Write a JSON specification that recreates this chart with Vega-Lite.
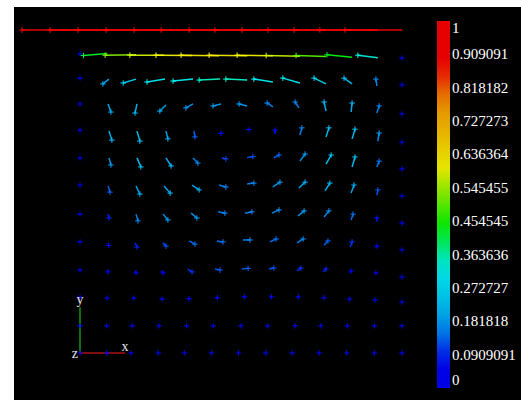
{
  "$schema": "https://vega.github.io/schema/vega-lite/v6.json",
  "width": 507,
  "height": 393,
  "autosize": {"type": "none"},
  "padding": {"left": 14, "top": 7, "right": 0, "bottom": 0},
  "background": "#ffffff",
  "datasets": {
    "glyphs": [
      {"x":0,"y":1.0,"x2":-0.180,"y2":1.0,"mag":1},
      {"x":0.087,"y":1.0,"x2":-0.093,"y2":1.0,"mag":1},
      {"x":0.174,"y":1.0,"x2":-0.006,"y2":1.0,"mag":1},
      {"x":0.261,"y":1.0,"x2":0.081,"y2":1.0,"mag":1},
      {"x":0.348,"y":1.0,"x2":0.168,"y2":1.0,"mag":1},
      {"x":0.432,"y":1.0,"x2":0.252,"y2":1.0,"mag":1},
      {"x":0.519,"y":1.0,"x2":0.339,"y2":1.0,"mag":1},
      {"x":0.599,"y":1.0,"x2":0.419,"y2":1.0,"mag":1},
      {"x":0.683,"y":1.0,"x2":0.503,"y2":1.0,"mag":1},
      {"x":0.764,"y":1.0,"x2":0.584,"y2":1.0,"mag":1},
      {"x":0.845,"y":1.0,"x2":0.665,"y2":1.0,"mag":1},
      {"x":0.925,"y":1.0,"x2":0.745,"y2":1.0,"mag":1},
      {"x":1.0,"y":1.0,"x2":0.823,"y2":1.0,"mag":1},

      {"x":0,"y":0.926,"x2":0,"y2":0.926,"mag":0},
      {"x":0.085,"y":0.927,"x2":0.011,"y2":0.921,"mag":0.42},
      {"x":0.174,"y":0.923,"x2":0.078,"y2":0.922,"mag":0.53},
      {"x":0.261,"y":0.922,"x2":0.155,"y2":0.922,"mag":0.58},
      {"x":0.348,"y":0.921,"x2":0.236,"y2":0.922,"mag":0.6},
      {"x":0.432,"y":0.920,"x2":0.314,"y2":0.922,"mag":0.62},
      {"x":0.519,"y":0.920,"x2":0.401,"y2":0.922,"mag":0.62},
      {"x":0.599,"y":0.920,"x2":0.488,"y2":0.922,"mag":0.6},
      {"x":0.683,"y":0.919,"x2":0.578,"y2":0.921,"mag":0.57},
      {"x":0.764,"y":0.918,"x2":0.671,"y2":0.921,"mag":0.5},
      {"x":0.845,"y":0.916,"x2":0.767,"y2":0.923,"mag":0.43},
      {"x":0.925,"y":0.914,"x2":0.863,"y2":0.922,"mag":0.34},
      {"x":1.0,"y":0.913,"x2":1.0,"y2":0.913,"mag":0},

      {"x":0,"y":0.851,"x2":0,"y2":0.851,"mag":0},
      {"x":0.090,"y":0.848,"x2":0.071,"y2":0.833,"mag":0.2},
      {"x":0.174,"y":0.848,"x2":0.134,"y2":0.836,"mag":0.26},
      {"x":0.264,"y":0.848,"x2":0.208,"y2":0.839,"mag":0.31},
      {"x":0.351,"y":0.848,"x2":0.289,"y2":0.842,"mag":0.33},
      {"x":0.435,"y":0.848,"x2":0.370,"y2":0.845,"mag":0.35},
      {"x":0.519,"y":0.845,"x2":0.453,"y2":0.848,"mag":0.35},
      {"x":0.599,"y":0.839,"x2":0.540,"y2":0.848,"mag":0.33},
      {"x":0.683,"y":0.836,"x2":0.630,"y2":0.851,"mag":0.31},
      {"x":0.764,"y":0.833,"x2":0.727,"y2":0.851,"mag":0.27},
      {"x":0.845,"y":0.833,"x2":0.820,"y2":0.851,"mag":0.22},
      {"x":0.922,"y":0.827,"x2":0.919,"y2":0.848,"mag":0.17},
      {"x":1.0,"y":0.830,"x2":1.0,"y2":0.830,"mag":0},

      {"x":0,"y":0.771,"x2":0,"y2":0.771,"mag":0},
      {"x":0.087,"y":0.771,"x2":0.096,"y2":0.746,"mag":0.2},
      {"x":0.177,"y":0.771,"x2":0.171,"y2":0.743,"mag":0.21},
      {"x":0.267,"y":0.768,"x2":0.248,"y2":0.749,"mag":0.2},
      {"x":0.351,"y":0.771,"x2":0.329,"y2":0.759,"mag":0.18},
      {"x":0.438,"y":0.771,"x2":0.413,"y2":0.765,"mag":0.18},
      {"x":0.519,"y":0.765,"x2":0.494,"y2":0.771,"mag":0.18},
      {"x":0.599,"y":0.762,"x2":0.581,"y2":0.774,"mag":0.16},
      {"x":0.680,"y":0.759,"x2":0.668,"y2":0.777,"mag":0.16},
      {"x":0.764,"y":0.749,"x2":0.758,"y2":0.777,"mag":0.21},
      {"x":0.842,"y":0.746,"x2":0.845,"y2":0.774,"mag":0.21},
      {"x":0.922,"y":0.743,"x2":0.929,"y2":0.765,"mag":0.16},
      {"x":1.0,"y":0.740,"x2":1.0,"y2":0.740,"mag":0},

      {"x":0,"y":0.690,"x2":0,"y2":0.690,"mag":0},
      {"x":0.090,"y":0.687,"x2":0.099,"y2":0.659,"mag":0.21},
      {"x":0.177,"y":0.687,"x2":0.186,"y2":0.656,"mag":0.23},
      {"x":0.267,"y":0.687,"x2":0.273,"y2":0.663,"mag":0.2},
      {"x":0.354,"y":0.687,"x2":0.357,"y2":0.669,"mag":0.13},
      {"x":0.435,"y":0.684,"x2":0.438,"y2":0.680,"mag":0.03},
      {"x":0.522,"y":0.690,"x2":0.525,"y2":0.692,"mag":0.02},
      {"x":0.606,"y":0.678,"x2":0.606,"y2":0.690,"mag":0.08},
      {"x":0.683,"y":0.675,"x2":0.689,"y2":0.697,"mag":0.16},
      {"x":0.764,"y":0.669,"x2":0.773,"y2":0.697,"mag":0.22},
      {"x":0.845,"y":0.663,"x2":0.854,"y2":0.693,"mag":0.23},
      {"x":0.925,"y":0.656,"x2":0.929,"y2":0.681,"mag":0.18},
      {"x":1.0,"y":0.653,"x2":1.0,"y2":0.653,"mag":0},

      {"x":0,"y":0.604,"x2":0,"y2":0.604,"mag":0},
      {"x":0.090,"y":0.604,"x2":0.096,"y2":0.582,"mag":0.18},
      {"x":0.177,"y":0.604,"x2":0.189,"y2":0.576,"mag":0.22},
      {"x":0.267,"y":0.604,"x2":0.283,"y2":0.579,"mag":0.21},
      {"x":0.351,"y":0.604,"x2":0.366,"y2":0.588,"mag":0.16},
      {"x":0.441,"y":0.604,"x2":0.453,"y2":0.601,"mag":0.11},
      {"x":0.519,"y":0.605,"x2":0.537,"y2":0.608,"mag":0.12},
      {"x":0.602,"y":0.604,"x2":0.618,"y2":0.613,"mag":0.13},
      {"x":0.683,"y":0.594,"x2":0.699,"y2":0.616,"mag":0.18},
      {"x":0.764,"y":0.585,"x2":0.780,"y2":0.613,"mag":0.23},
      {"x":0.845,"y":0.576,"x2":0.854,"y2":0.607,"mag":0.22},
      {"x":0.922,"y":0.576,"x2":0.929,"y2":0.594,"mag":0.14},
      {"x":1.0,"y":0.570,"x2":1.0,"y2":0.570,"mag":0},

      {"x":0,"y":0.520,"x2":0,"y2":0.520,"mag":0},
      {"x":0.087,"y":0.517,"x2":0.093,"y2":0.498,"mag":0.13},
      {"x":0.174,"y":0.517,"x2":0.186,"y2":0.492,"mag":0.2},
      {"x":0.261,"y":0.517,"x2":0.280,"y2":0.495,"mag":0.21},
      {"x":0.348,"y":0.520,"x2":0.370,"y2":0.505,"mag":0.2},
      {"x":0.432,"y":0.520,"x2":0.453,"y2":0.514,"mag":0.16},
      {"x":0.519,"y":0.523,"x2":0.540,"y2":0.526,"mag":0.16},
      {"x":0.599,"y":0.514,"x2":0.621,"y2":0.529,"mag":0.18},
      {"x":0.680,"y":0.511,"x2":0.699,"y2":0.529,"mag":0.2},
      {"x":0.761,"y":0.502,"x2":0.776,"y2":0.526,"mag":0.21},
      {"x":0.842,"y":0.495,"x2":0.851,"y2":0.520,"mag":0.2},
      {"x":0.922,"y":0.489,"x2":0.925,"y2":0.505,"mag":0.12},
      {"x":1.0,"y":0.486,"x2":1.0,"y2":0.486,"mag":0},

      {"x":0,"y":0.430,"x2":0,"y2":0.430,"mag":0},
      {"x":0.087,"y":0.430,"x2":0.090,"y2":0.418,"mag":0.09},
      {"x":0.174,"y":0.430,"x2":0.180,"y2":0.409,"mag":0.16},
      {"x":0.258,"y":0.430,"x2":0.273,"y2":0.412,"mag":0.18},
      {"x":0.345,"y":0.433,"x2":0.363,"y2":0.418,"mag":0.18},
      {"x":0.429,"y":0.437,"x2":0.450,"y2":0.433,"mag":0.16},
      {"x":0.512,"y":0.433,"x2":0.534,"y2":0.437,"mag":0.16},
      {"x":0.596,"y":0.433,"x2":0.618,"y2":0.443,"mag":0.17},
      {"x":0.677,"y":0.424,"x2":0.696,"y2":0.440,"mag":0.18},
      {"x":0.758,"y":0.421,"x2":0.773,"y2":0.440,"mag":0.17},
      {"x":0.842,"y":0.412,"x2":0.848,"y2":0.430,"mag":0.14},
      {"x":0.922,"y":0.406,"x2":0.922,"y2":0.418,"mag":0.08},
      {"x":1.0,"y":0.402,"x2":1.0,"y2":0.402,"mag":0},

      {"x":0,"y":0.344,"x2":0,"y2":0.344,"mag":0},
      {"x":0.087,"y":0.341,"x2":0.089,"y2":0.333,"mag":0.05},
      {"x":0.171,"y":0.341,"x2":0.177,"y2":0.328,"mag":0.09},
      {"x":0.258,"y":0.341,"x2":0.267,"y2":0.331,"mag":0.12},
      {"x":0.339,"y":0.347,"x2":0.357,"y2":0.337,"mag":0.14},
      {"x":0.425,"y":0.347,"x2":0.444,"y2":0.344,"mag":0.14},
      {"x":0.506,"y":0.350,"x2":0.528,"y2":0.350,"mag":0.16},
      {"x":0.590,"y":0.344,"x2":0.609,"y2":0.353,"mag":0.14},
      {"x":0.674,"y":0.341,"x2":0.693,"y2":0.353,"mag":0.16},
      {"x":0.758,"y":0.334,"x2":0.770,"y2":0.347,"mag":0.13},
      {"x":0.839,"y":0.328,"x2":0.845,"y2":0.344,"mag":0.1},
      {"x":0.919,"y":0.325,"x2":0.922,"y2":0.331,"mag":0.06},
      {"x":1.0,"y":0.319,"x2":1.0,"y2":0.319,"mag":0},

      {"x":0,"y":0.257,"x2":0,"y2":0.257,"mag":0},
      {"x":0.085,"y":0.257,"x2":0.087,"y2":0.251,"mag":0.03},
      {"x":0.171,"y":0.255,"x2":0.174,"y2":0.248,"mag":0.04},
      {"x":0.252,"y":0.254,"x2":0.258,"y2":0.248,"mag":0.06},
      {"x":0.335,"y":0.260,"x2":0.348,"y2":0.251,"mag":0.1},
      {"x":0.419,"y":0.260,"x2":0.435,"y2":0.257,"mag":0.12},
      {"x":0.503,"y":0.260,"x2":0.522,"y2":0.262,"mag":0.13},
      {"x":0.587,"y":0.260,"x2":0.602,"y2":0.263,"mag":0.12},
      {"x":0.674,"y":0.254,"x2":0.686,"y2":0.263,"mag":0.1},
      {"x":0.755,"y":0.251,"x2":0.764,"y2":0.260,"mag":0.09},
      {"x":0.839,"y":0.248,"x2":0.842,"y2":0.254,"mag":0.04},
      {"x":0.919,"y":0.245,"x2":0.919,"y2":0.248,"mag":0.02},
      {"x":1.0,"y":0.235,"x2":1.0,"y2":0.235,"mag":0},

      {"x":0,"y":0.173,"x2":0,"y2":0.173,"mag":0},
      {"x":0.084,"y":0.170,"x2":0.084,"y2":0.170,"mag":0.01},
      {"x":0.165,"y":0.170,"x2":0.167,"y2":0.170,"mag":0.02},
      {"x":0.252,"y":0.167,"x2":0.255,"y2":0.167,"mag":0.02},
      {"x":0.335,"y":0.167,"x2":0.339,"y2":0.168,"mag":0.03},
      {"x":0.422,"y":0.170,"x2":0.427,"y2":0.171,"mag":0.03},
      {"x":0.506,"y":0.173,"x2":0.511,"y2":0.174,"mag":0.03},
      {"x":0.590,"y":0.173,"x2":0.595,"y2":0.174,"mag":0.03},
      {"x":0.674,"y":0.173,"x2":0.678,"y2":0.174,"mag":0.03},
      {"x":0.755,"y":0.170,"x2":0.758,"y2":0.171,"mag":0.02},
      {"x":0.836,"y":0.167,"x2":0.838,"y2":0.167,"mag":0.02},
      {"x":0.916,"y":0.164,"x2":0.916,"y2":0.164,"mag":0.01},
      {"x":1.0,"y":0.158,"x2":1.0,"y2":0.158,"mag":0},

      {"x":0,"y":0.084,"x2":0,"y2":0.084,"mag":0},
      {"x":0.083,"y":0.084,"x2":0.083,"y2":0.084,"mag":0},
      {"x":0.162,"y":0.084,"x2":0.162,"y2":0.084,"mag":0},
      {"x":0.245,"y":0.084,"x2":0.245,"y2":0.084,"mag":0},
      {"x":0.331,"y":0.084,"x2":0.331,"y2":0.084,"mag":0},
      {"x":0.414,"y":0.084,"x2":0.414,"y2":0.084,"mag":0},
      {"x":0.500,"y":0.084,"x2":0.500,"y2":0.084,"mag":0},
      {"x":0.583,"y":0.084,"x2":0.583,"y2":0.084,"mag":0},
      {"x":0.668,"y":0.084,"x2":0.668,"y2":0.084,"mag":0},
      {"x":0.748,"y":0.084,"x2":0.748,"y2":0.084,"mag":0},
      {"x":0.830,"y":0.084,"x2":0.830,"y2":0.084,"mag":0},
      {"x":0.914,"y":0.084,"x2":0.914,"y2":0.084,"mag":0},
      {"x":1.0,"y":0.084,"x2":1.0,"y2":0.084,"mag":0},

      {"x":0,"y":0,"x2":0,"y2":0,"mag":0},
      {"x":0.083,"y":0,"x2":0.083,"y2":0,"mag":0},
      {"x":0.158,"y":0,"x2":0.158,"y2":0,"mag":0},
      {"x":0.243,"y":0,"x2":0.243,"y2":0,"mag":0},
      {"x":0.324,"y":0,"x2":0.324,"y2":0,"mag":0},
      {"x":0.409,"y":0,"x2":0.409,"y2":0,"mag":0},
      {"x":0.492,"y":0,"x2":0.492,"y2":0,"mag":0},
      {"x":0.577,"y":0,"x2":0.577,"y2":0,"mag":0},
      {"x":0.659,"y":0,"x2":0.659,"y2":0,"mag":0},
      {"x":0.743,"y":0,"x2":0.743,"y2":0,"mag":0},
      {"x":0.828,"y":0,"x2":0.828,"y2":0,"mag":0},
      {"x":0.914,"y":0,"x2":0.914,"y2":0,"mag":0},
      {"x":1.0,"y":0,"x2":1.0,"y2":0,"mag":0}
    ],
    "triad": [
      {"axis":"x","x":0,"y":0,"x2":0.14,"y2":0},
      {"axis":"y","x":0,"y":0,"x2":0,"y2":0.142}
    ],
    "triadLabels": [
      {"label":"x","x":0.14,"y":0.019},
      {"label":"y","x":0,"y":0.165},
      {"label":"z","x":-0.016,"y":-0.004}
    ]
  },
  "encoding": {
    "x": {"type":"quantitative","scale":{"domain":[-0.204969,1.369565],"nice":false,"zero":false},"axis":null},
    "y": {"type":"quantitative","scale":{"domain":[-0.145511,1.071207],"nice":false,"zero":false},"axis":null}
  },
  "layer": [
    {
      "data": {"name": "triad"},
      "transform": [{"filter": "datum.axis === 'y'"}],
      "mark": {"type":"rule","color":"#119911","strokeWidth":1.5},
      "encoding": {"x":{"field":"x","type":"quantitative"},"y":{"field":"y","type":"quantitative"},"x2":{"field":"x2"},"y2":{"field":"y2"}}
    },
    {
      "data": {"name": "triad"},
      "transform": [{"filter": "datum.axis === 'x'"}],
      "mark": {"type":"rule","color":"#aa1111","strokeWidth":1.5},
      "encoding": {"x":{"field":"x","type":"quantitative"},"y":{"field":"y","type":"quantitative"},"x2":{"field":"x2"},"y2":{"field":"y2"}}
    },
    {
      "data": {"name": "glyphs"},
      "mark": {"type":"rule","strokeWidth":1.5,"opacity":0.9},
      "encoding": {
        "x":{"field":"x","type":"quantitative"},
        "y":{"field":"y","type":"quantitative"},
        "x2":{"field":"x2"},
        "y2":{"field":"y2"},
        "color":{"field":"mag","type":"quantitative",
          "scale":{"domain":[0,0.07,0.14,0.22,0.33,0.44,0.6,0.78,0.88,1],"range":["#0000ff","#0000ff","#0078ff","#00c8ff","#00ffff","#00ff00","#ffff00","#ff9900","#ff0000","#ff0000"],"interpolate":"rgb"},
          "legend":{"values":[0,0.0909091,0.181818,0.272727,0.363636,0.454545,0.545455,0.636364,0.727273,0.818182,0.909091,1],"labelExpr":"'' + datum.value"}}
      }
    },
    {
      "data": {"name": "glyphs"},
      "mark": {"type":"point","shape":"M-1,0L1,0M0,-1L0,1","filled":false,"size":30,"strokeWidth":1,"opacity":1},
      "encoding": {
        "x":{"field":"x2","type":"quantitative"},
        "y":{"field":"y2","type":"quantitative"},
        "color":{"field":"mag","type":"quantitative",
          "legend":{"values":[0,0.0909091,0.181818,0.272727,0.363636,0.454545,0.545455,0.636364,0.727273,0.818182,0.909091,1],"labelExpr":"'' + datum.value"}}
      }
    },
    {
      "data": {"name": "triadLabels"},
      "mark": {"type":"text","font":"Liberation Serif","fontSize":14,"color":"#e6e6e6","baseline":"middle","align":"center"},
      "encoding": {"x":{"field":"x","type":"quantitative"},"y":{"field":"y","type":"quantitative"},"text":{"field":"label"}}
    }
  ],
  "config": {
    "view": {"stroke": null, "fill": "#000000"},
    "legend": {
      "orient": "none",
      "legendX": 423,
      "legendY": 14,
      "direction": "vertical",
      "title": null,
      "padding": 0,
      "gradientLength": 367,
      "gradientThickness": 13,
      "gradientStrokeWidth": 0,
      "labelFont": "Liberation Serif",
      "labelFontSize": 15,
      "labelColor": "#ffffff",
      "labelOffset": 6,
      "labelOverlap": false,
      "labelBaseline": "middle",
      "labelLimit": 200
    }
  }
}
